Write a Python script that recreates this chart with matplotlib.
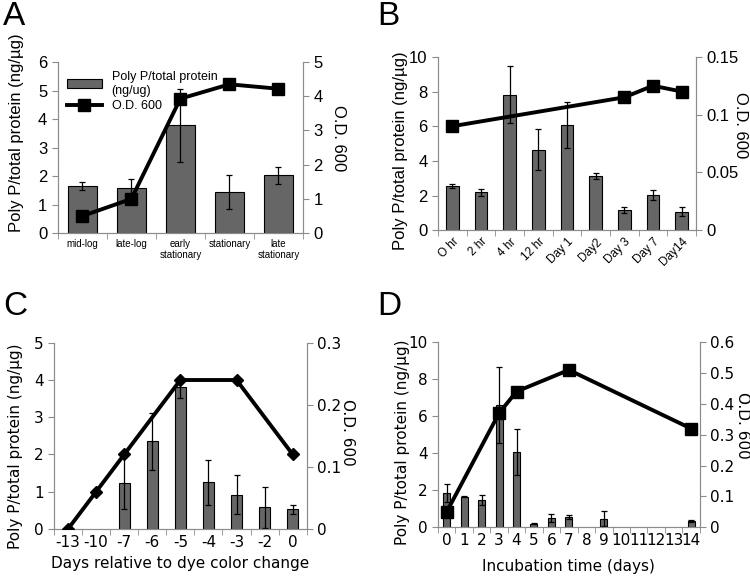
import numpy as np
import matplotlib
matplotlib.use("Agg")
import matplotlib.pyplot as plt
from matplotlib.ticker import FixedLocator

nan = np.nan

# Panel A
a_cats = ["mid-log", "late-log", "early\nstationary", "stationary", "late\nstationary"]
a_polyp = [1.65, 1.6, 3.78, 1.45, 2.03]
a_err = [0.14, 0.3, 1.27, 0.6, 0.3]
a_od = [0.5, 1.0, 3.93, 4.35, 4.22]

# Panel B
b_cats = ["O hr", "2 hr", "4 hr", "12 hr", "Day 1", "Day2", "Day 3", "Day 7", "Day14"]
b_polyp = [2.55, 2.2, 7.82, 4.65, 6.08, 3.12, 1.15, 2.02, 1.07]
b_err = [0.1, 0.2, 1.65, 1.17, 1.32, 0.16, 0.18, 0.28, 0.25]
b_od = [0.09, nan, nan, nan, nan, nan, 0.115, 0.125, 0.12]

# Panel C
c_cats = ["-13", "-10", "-7", "-6", "-5", "-4", "-3", "-2", "0"]
c_polyp = [nan, nan, 1.23, 2.35, 3.8, 1.25, 0.92, 0.58, 0.53]
c_err = [nan, nan, 0.7, 0.77, 0.28, 0.6, 0.53, 0.55, 0.12]
c_od = [0.0, 0.06, 0.12, nan, 0.24, nan, 0.24, nan, 0.12]

# Panel D
d_cats = [str(i) for i in range(15)]
d_polyp = [1.85, 1.65, 1.45, 6.6, 4.05, 0.2, 0.5, 0.55, nan, 0.45, nan, nan, nan, nan, 0.32]
d_err = [0.5, 0.04, 0.27, 2.05, 1.25, 0.03, 0.22, 0.12, nan, 0.4, nan, nan, nan, nan, 0.05]
d_od = [0.05, nan, nan, 0.37, 0.44, nan, nan, 0.51, nan, nan, nan, nan, nan, nan, 0.32]

GRAY = "#8c8c8c"
BAR = "#666666"
YLAB = "Poly P/total protein (ng/\u00b5g)"


def panel(rect, cats, polyp, err, od, ymax, ystep, odmax, odstep,
          marker, msize, barw, font, tickfs, catfs, labfs, lpos, rpos,
          rot=0, xlabel=None, xpad=2):
    ax = fig.add_axes(rect)
    x = np.arange(len(cats))
    ax.bar(x, polyp, width=barw, color=BAR, edgecolor="black", linewidth=0.8,
           yerr=err, error_kw=dict(ecolor="black", elinewidth=0.9, capsize=2.5, capthick=0.9),
           zorder=2, label="Poly P/total protein\n(ng/ug)")
    ax.set_xlim(-0.5, len(cats) - 0.5)
    ax.set_ylim(0, ymax)
    yt = np.arange(0, ymax + 0.01, ystep)
    ax.set_yticks(yt)
    ax.set_yticklabels([f"{v:g}" for v in yt], fontsize=tickfs, family=font)
    ax.set_xticks(x)
    if rot:
        ax.set_xticklabels(cats, fontsize=catfs, family=font, rotation=rot,
                           ha="right", rotation_mode="anchor")
    else:
        ax.set_xticklabels(cats, fontsize=catfs, family=font)
    ax.tick_params(axis="x", length=0, pad=4)
    ax.xaxis.set_minor_locator(FixedLocator(np.arange(-0.5, len(cats), 1.0)))
    ax.tick_params(axis="x", which="minor", length=4, color=GRAY)
    ax.tick_params(axis="y", length=4, color=GRAY)
    ax.spines["top"].set_visible(False)
    for s in ["left", "right", "bottom"]:
        ax.spines[s].set_color(GRAY)
    ax.set_ylabel(YLAB, fontsize=labfs, family=font, va="center", ha="center")
    ax.yaxis.set_label_coords(*lpos)
    if xlabel:
        ax.set_xlabel(xlabel, fontsize=11, family=font, labelpad=xpad)

    ax2 = ax.twinx()
    od = np.array(od, dtype=float)
    m = ~np.isnan(od)
    ax2.plot(x[m], od[m], color="black", linewidth=2.8, marker=marker,
             markersize=msize, zorder=3, label="O.D. 600")
    ax2.set_ylim(0, odmax)
    ticks = np.arange(0, odmax + odstep / 10, odstep)
    ax2.set_yticks(ticks)
    ax2.set_yticklabels(["0" if v == 0 else f"{v:g}" for v in ticks],
                        fontsize=tickfs, family=font)
    ax2.tick_params(axis="y", length=4, color=GRAY)
    ax2.spines["top"].set_visible(False)
    for s in ["left", "right", "bottom"]:
        ax2.spines[s].set_color(GRAY)
    ax2.set_ylabel("O.D. 600", fontsize=labfs, family=font, rotation=270,
                   va="center", ha="center")
    ax2.yaxis.set_label_coords(*rpos)
    return ax, ax2


fig = plt.figure(figsize=(7.5, 5.8), dpi=100)

axA, axA2 = panel([0.077, 0.598, 0.327, 0.295], a_cats, a_polyp, a_err, a_od,
                  6, 1, 5, 1, "s", 9, 0.6, "Liberation Sans", 12, 7, 12,
                  (-0.167, 0.59), (1.143, 0.556))
h1, l1 = axA.get_legend_handles_labels()
h2, l2 = axA2.get_legend_handles_labels()
axA.legend(h1 + h2, l1 + l2, loc="upper left", frameon=False,
           prop={"family": "Liberation Sans", "size": 9}, handlelength=2.8,
           borderaxespad=0.3, labelspacing=0.3)

panel([0.584, 0.603, 0.344, 0.299], b_cats, b_polyp, b_err, b_od,
      10, 2, 0.15, 0.05, "s", 9, 0.45, "Liberation Sans", 12, 8.5, 12,
      (-0.145, 0.457), (1.171, 0.607), rot=45)

panel([0.072, 0.088, 0.337, 0.321], c_cats, c_polyp, c_err, c_od,
      5, 1, 0.3, 0.1, "D", 6, 0.4, "DejaVu Sans", 11, 11, 11,
      (-0.154, 0.446), (1.162, 0.52),
      xlabel="Days relative to dye color change", xpad=5)

panel([0.584, 0.091, 0.349, 0.319], d_cats, d_polyp, d_err, d_od,
      10, 2, 0.6, 0.1, "s", 9, 0.4, "DejaVu Sans", 11, 11, 11,
      (-0.135, 0.459), (1.164, 0.551),
      xlabel="Incubation time (days)", xpad=8)

for lx, ly, t in [(0.004, 0.998, "A"), (0.503, 0.998, "B"),
                  (0.004, 0.498, "C"), (0.503, 0.498, "D")]:
    fig.text(lx, ly, t, fontsize=24, family="Liberation Sans", va="top", ha="left")

fig.savefig("out.png", dpi=100)
